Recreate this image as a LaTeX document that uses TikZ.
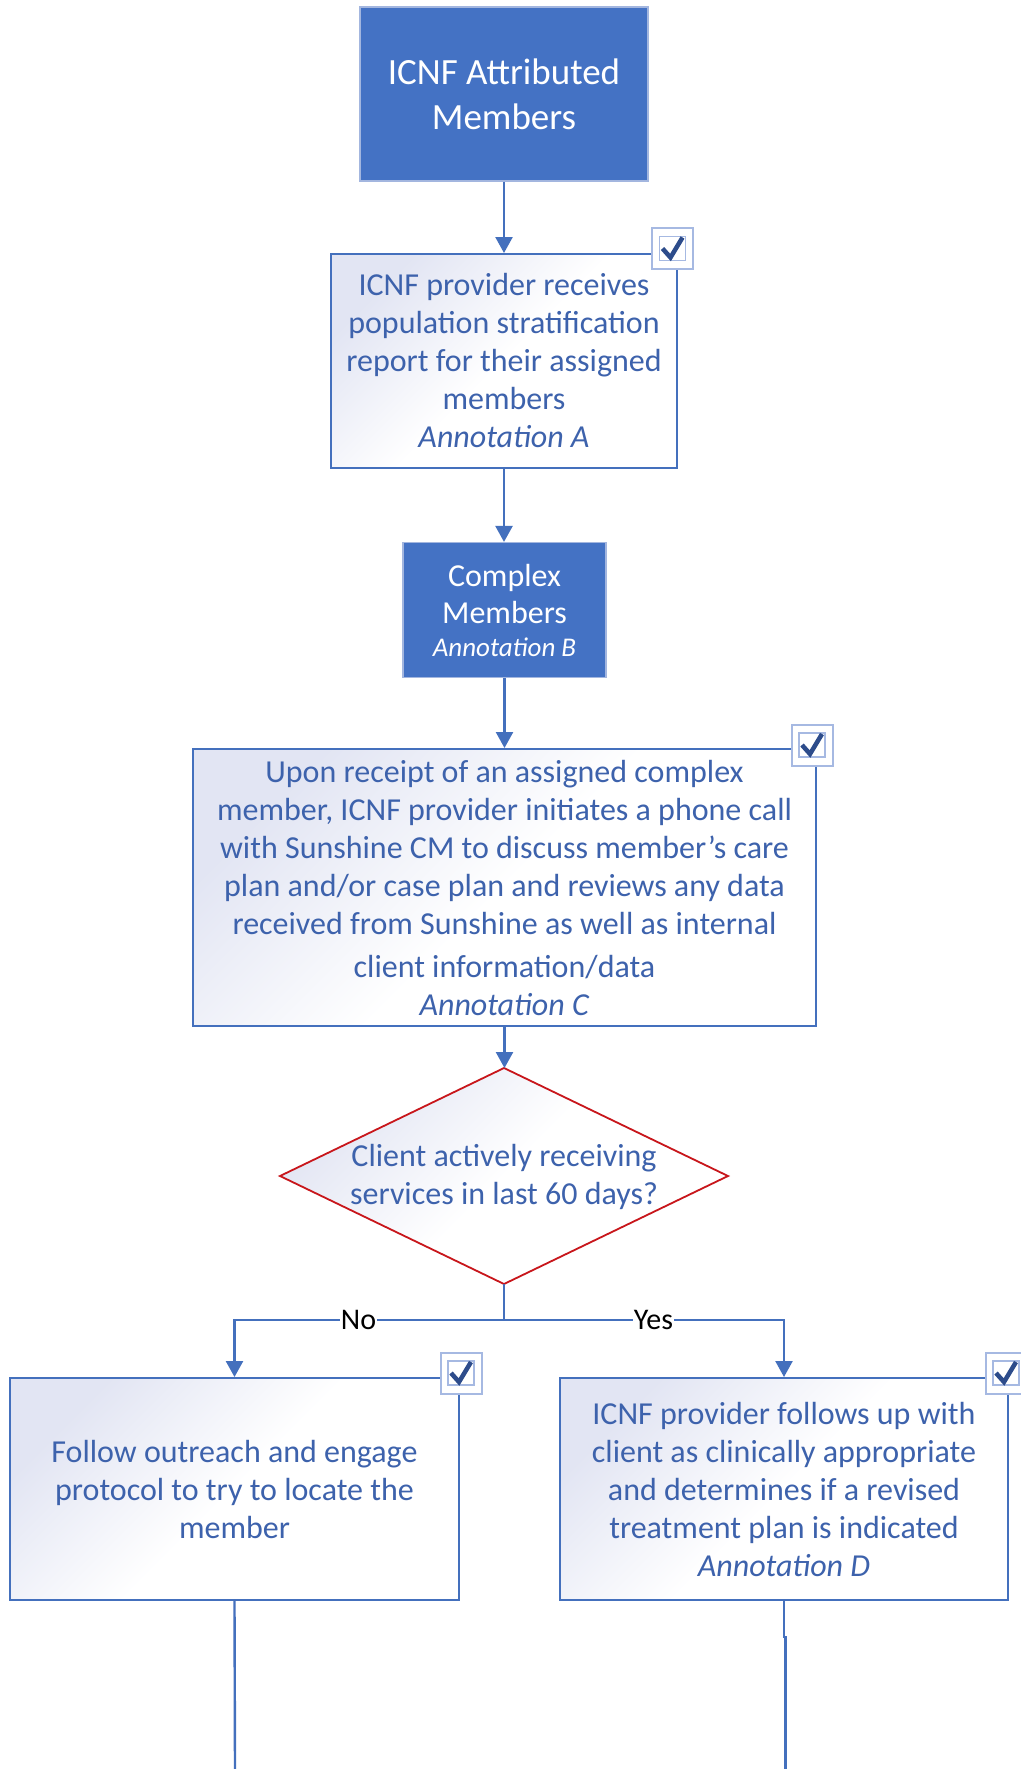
\documentclass[tikz,border=0pt]{standalone}
\usepackage{fontspec}
\setmainfont{Carlito}
\usetikzlibrary{arrows.meta}
\definecolor{dkfill}{HTML}{4472C4}
\definecolor{dkedge}{HTML}{A3B6DF}
\definecolor{boxedge}{HTML}{4470BD}
\definecolor{txtblue}{HTML}{3D62AC}
\definecolor{lav}{HTML}{E2E5F3}
\definecolor{redge}{HTML}{C8161B}
\definecolor{cbedge}{HTML}{A6B9E2}
\definecolor{ckblue}{HTML}{2D4C8B}
\newcommand\chkbox[2]{%
  \node[cbout] (#1) at (#2) {};
  \node[cbin] (#1i) at (#1.center) {};
  \draw[checkmk] ([shift={(-10,0)}]#1.center) -- ([shift={(-2,9)}]#1.center) -- ([shift={(10,-11)}]#1.center);
}
\begin{document}
\begin{tikzpicture}[x=1pt,y=-1pt,
  grad/.style={top color=lav, bottom color=white, middle color=white, shading angle=45},
  darkbox/.style={draw=dkedge, line width=1.2, fill=dkfill, text=white, align=center, inner sep=0},
  lightbox/.style={draw=boxedge, line width=2, grad, text=txtblue, align=center, inner sep=0, font=\fontsize{32}{38}\selectfont},
  dectext/.style={text=txtblue, align=center, inner sep=0, font=\fontsize{32}{38}\selectfont},
  decshape/.style={draw=redge, line width=1.8, line join=miter, grad},
  conn/.style={draw=boxedge, line width=2.4, -{Triangle[length=16,width=17]}},
  plain/.style={draw=boxedge, line width=2.4},
  lbl/.style={fill=white, text=black, inner sep=1, font=\fontsize{30}{32}\selectfont},
  cbout/.style={draw=cbedge, line width=2, fill=white, minimum size=41, inner sep=0},
  cbin/.style={draw=cbedge, line width=1.5, minimum width=26, minimum height=24, inner sep=0},
  checkmk/.style={draw=ckblue, line width=4.5, line join=miter}]
\useasboundingbox (0,0) rectangle (1020,1769);
\fill[white] (0,0) rectangle (1020,1769);

\node[darkbox, minimum width=288, minimum height=174, font=\fontsize{37}{45}\selectfont] (top) at (504,94) {ICNF Attributed\\Members};

\node[lightbox, minimum width=346, minimum height=214] (prov) at (504,361) {ICNF provider receives\\population stratification\\report for their assigned\\members\\\textit{Annotation A}};

\node[darkbox, minimum width=203, minimum height=135, font=\fontsize{32}{37}\selectfont] (cplx) at (504.5,610) {Complex\\Members\\[-4pt]{\fontsize{27}{30}\selectfont\itshape Annotation B}};

\node[lightbox, minimum width=623, minimum height=277] (care) at (504.5,887.5) {Upon receipt of an assigned complex\\member, ICNF provider initiates a phone call\\with Sunshine CM to discuss member’s care\\plan and/or case plan and reviews any data\\received from Sunshine as well as internal\\[5pt]client information/data\\\textit{Annotation C}};

\coordinate (decN) at (504,1068);
\coordinate (decE) at (728,1176);
\coordinate (decS) at (504,1284);
\coordinate (decW) at (280,1176);
\path[decshape] (decN) -- (decE) -- (decS) -- (decW) -- cycle;
\node[dectext] (dec) at (504,1177) {Client actively receiving\\services in last 60 days?};

\node[lightbox, minimum width=449, minimum height=222] (lb) at (234.5,1489) {Follow outreach and engage\\protocol to try to locate the\\member};

\node[lightbox, minimum width=448, minimum height=222] (rb) at (784,1489) {ICNF provider follows up with\\client as clinically appropriate\\and determines if a revised\\treatment plan is indicated\\\textit{Annotation D}};

\coordinate (split) at (504,1320);
\coordinate (lend) at (235,1769);
\coordinate (rend) at (785.5,1769);

\draw[conn] (top) -- (prov);
\draw[conn] (prov.south) -- (prov.south |- cplx.north);
\draw[conn] (cplx.south) -- (cplx.south |- care.north);
\draw[conn] (care.south) -- (care.south |- decN);
\draw[plain] (decS) -- (split);
\draw[conn] (split) -| node[pos=0.27, lbl] {No} (lb.north);
\draw[conn] (split) -| node[pos=0.267, lbl] {Yes} (rb.north);
\draw[plain] (lb.south) -- (lend);
\draw[plain] (rb.south) -- ++(0,36) -| (rend);

\chkbox{cbA}{672.5,248.5}
\chkbox{cbC}{812,745}
\chkbox{cbL}{461,1373}
\chkbox{cbR}{1006,1373}
\end{tikzpicture}
\end{document}
